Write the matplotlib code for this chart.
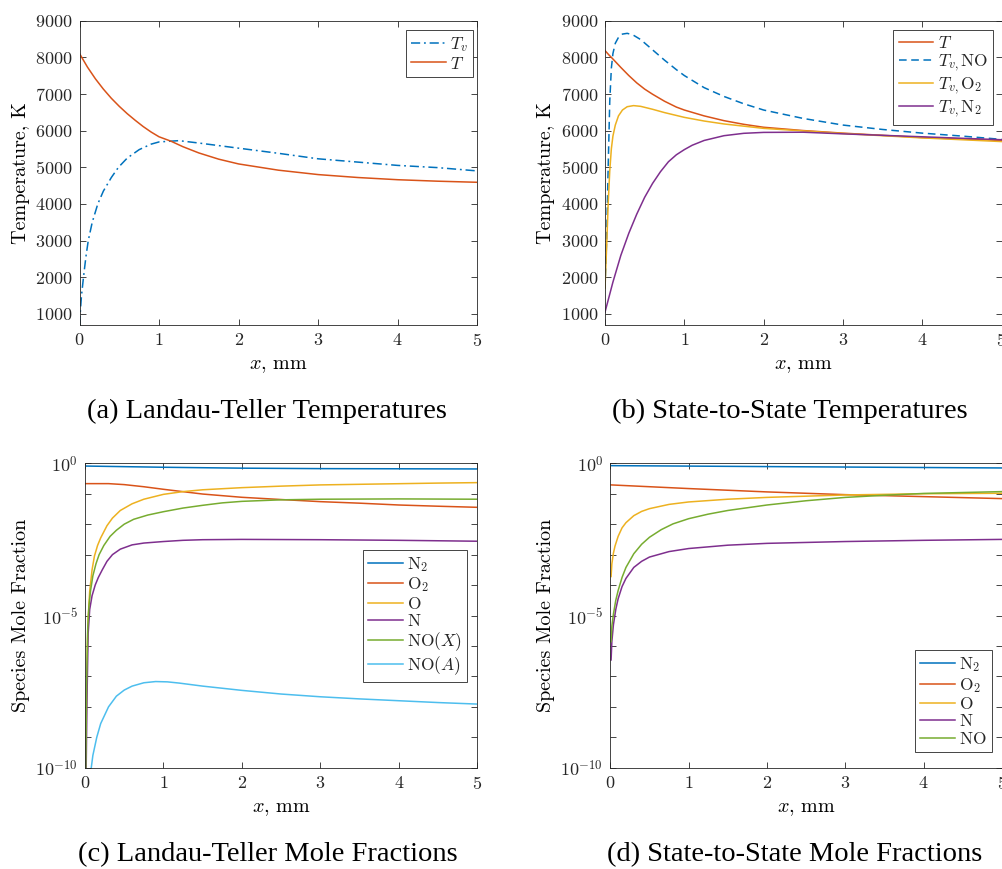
import numpy as np
import matplotlib
matplotlib.use("Agg")
import matplotlib.pyplot as plt

plt.rcParams.update({
    "font.family": "serif",
    "font.serif": ["cmr10"],
    "mathtext.fontset": "cm",
    "axes.formatter.use_mathtext": True,
    "axes.unicode_minus": False,
    "axes.linewidth": 0.6,
    "axes.edgecolor": "#262626",
    "xtick.color": "#262626",
    "ytick.color": "#262626",
    "text.color": "#262626",
})

C_BLUE = "#0072BD"
C_ORANGE = "#D95319"
C_YELLOW = "#EDB120"
C_PURPLE = "#7E2F8E"
C_GREEN = "#77AC30"
C_CYAN = "#4DBEEE"

# ---- (a) Landau-Teller temperatures -------------------------------------
lt_T_x = [0, 0.1, 0.2, 0.3, 0.4, 0.5, 0.6, 0.7, 0.8, 0.9, 1.0, 1.15, 1.3, 1.5, 1.75,
          2.0, 2.5, 3.0, 3.5, 4.0, 4.5, 5.0]
lt_T = [8100, 7730, 7410, 7130, 6880, 6660, 6460, 6280, 6110, 5960, 5830, 5710, 5560, 5390,
        5220, 5090, 4920, 4800, 4720, 4660, 4620, 4590]

lt_Tv_x = [0, 0.01, 0.025, 0.05, 0.08, 0.11, 0.16, 0.23, 0.3, 0.4, 0.49, 0.6, 0.75,
           0.9, 1.0, 1.25, 1.5, 2.0, 2.5, 3.0, 3.5, 4.0, 4.5, 5.0]
lt_Tv = [700, 1050, 1500, 2000, 2550, 3000, 3500, 4000, 4350, 4720, 5000, 5250, 5480,
         5630, 5690, 5725, 5660, 5520, 5380, 5230, 5140, 5050, 4990, 4900]

# ---- (b) State-to-state temperatures ------------------------------------
sts_T_x = [0, 0.05, 0.1, 0.2, 0.3, 0.4, 0.5, 0.6, 0.75, 0.9, 1.0, 1.25, 1.5, 1.75,
           2.0, 2.5, 3.0, 3.5, 4.0, 4.5, 5.0]
sts_T = [8180, 8060, 7950, 7720, 7500, 7300, 7130, 6990, 6800, 6640, 6560, 6400, 6270, 6170,
         6090, 6000, 5930, 5870, 5810, 5770, 5730]

sts_TvNO_x = [0, 0.02, 0.04, 0.06, 0.08, 0.1, 0.13, 0.17, 0.22, 0.28, 0.35, 0.45, 0.6,
              0.75, 0.9, 1.0, 1.25, 1.5, 1.75, 2.0, 2.5, 3.0, 3.5, 4.0, 4.5, 5.0]
sts_TvNO = [1700, 3000, 5000, 6800, 7700, 8100, 8380, 8540, 8630, 8650, 8610, 8480, 8200,
            7920, 7660, 7500, 7170, 6930, 6730, 6560, 6330, 6150, 6030, 5930, 5850, 5760]

sts_TvO2_x = [0, 0.02, 0.04, 0.06, 0.08, 0.1, 0.13, 0.17, 0.22, 0.28, 0.36, 0.45, 0.6,
              0.75, 1.0, 1.25, 1.5, 2.0, 2.5, 3.0, 3.5, 4.0, 4.5, 5.0]
sts_TvO2 = [1700, 2800, 4000, 4900, 5500, 5850, 6150, 6400, 6560, 6650, 6680, 6660, 6580,
            6490, 6360, 6260, 6180, 6060, 5990, 5920, 5860, 5800, 5750, 5700]

sts_TvN2_x = [0, 0.1, 0.2, 0.3, 0.4, 0.5, 0.6, 0.7, 0.8, 0.9, 1.0, 1.1, 1.25, 1.5, 1.75,
              2.0, 2.5, 3.0, 3.5, 4.0, 4.5, 5.0]
sts_TvN2 = [1050, 1870, 2600, 3200, 3720, 4180, 4560, 4880, 5150, 5340, 5480, 5600, 5730,
            5860, 5925, 5950, 5955, 5910, 5870, 5830, 5790, 5750]

# ---- (c) Landau-Teller mole fractions (log10) ---------------------------
lt_N2_x = [0, 1, 2, 3, 4, 5]
lt_N2_log = [-0.09, -0.13, -0.16, -0.175, -0.18, -0.186]

lt_O2_x = [0, 0.3, 0.5, 0.75, 1, 1.5, 2, 2.5, 3, 3.5, 4, 4.5, 5]
lt_O2_log = [-0.668, -0.668, -0.70, -0.77, -0.854, -1.01, -1.117, -1.19, -1.26, -1.31, -1.37,
             -1.41, -1.446]

lt_O_x = [0, 0.01, 0.02, 0.03, 0.04, 0.06, 0.09, 0.12, 0.16, 0.2, 0.28, 0.35, 0.45, 0.6,
          0.75, 1.0, 1.25, 1.5, 2, 2.5, 3, 3.5, 4, 4.5, 5]
lt_O_log = [-12, -10, -7.5, -6, -5.1, -4.2, -3.5, -3.05, -2.7, -2.45, -2.05, -1.8, -1.55,
            -1.33, -1.18, -1.02, -0.93, -0.87, -0.80, -0.75, -0.71, -0.69, -0.67, -0.65, -0.635]

lt_N_x = [0, 0.015, 0.025, 0.04, 0.06, 0.09, 0.13, 0.17, 0.22, 0.28, 0.35, 0.45, 0.6, 0.75,
          1.0, 1.25, 1.5, 2, 3, 4, 5]
lt_N_log = [-12, -10, -7.8, -5.6, -4.8, -4.35, -4.0, -3.75, -3.5, -3.22, -3.0, -2.82, -2.68,
            -2.62, -2.57, -2.53, -2.51, -2.50, -2.51, -2.53, -2.56]

lt_NOX_x = [0, 0.01, 0.02, 0.035, 0.05, 0.07, 0.1, 0.14, 0.18, 0.24, 0.32, 0.4, 0.5, 0.62,
            0.8, 1, 1.25, 1.5, 1.75, 2, 2.5, 3, 4, 5]
lt_NOX_log = [-12, -10, -7.3, -5.4, -4.7, -4.2, -3.7, -3.3, -3.0, -2.7, -2.4, -2.2, -2.0,
              -1.84, -1.7, -1.59, -1.47, -1.38, -1.3, -1.25, -1.2, -1.18, -1.17, -1.18]

lt_NOA_x = [0.05, 0.08, 0.1, 0.15, 0.2, 0.3, 0.4, 0.5, 0.6, 0.75, 0.9, 1.05, 1.2, 1.5, 2,
            2.5, 3, 3.5, 4, 4.5, 5]
lt_NOA_log = [-11, -10, -9.6, -9.0, -8.55, -8.0, -7.65, -7.45, -7.32, -7.21, -7.17, -7.18,
              -7.22, -7.32, -7.46, -7.58, -7.67, -7.74, -7.80, -7.86, -7.91]

# ---- (d) State-to-state mole fractions (log10) --------------------------
sts_N2_x = [0.01, 1, 2, 3, 4, 5]
sts_N2_log = [-0.077, -0.092, -0.108, -0.123, -0.138, -0.153]

sts_O2_x = [0.01, 1, 2, 3, 4, 5]
sts_O2_log = [-0.71, -0.83, -0.94, -1.03, -1.095, -1.16]

sts_O_x = [0.01, 0.02, 0.04, 0.06, 0.1, 0.15, 0.2, 0.3, 0.4, 0.5, 0.75, 1, 1.5, 2, 2.5, 3, 4, 5]
sts_O_log = [-3.72, -3.3, -2.95, -2.72, -2.4, -2.12, -1.95, -1.72, -1.58, -1.49, -1.35, -1.27,
             -1.18, -1.12, -1.08, -1.04, -1.0, -0.985]

sts_NO_x = [0.01, 0.02, 0.04, 0.07, 0.1, 0.15, 0.2, 0.3, 0.4, 0.5, 0.65, 0.8, 1, 1.25, 1.5,
            2, 2.5, 3, 3.5, 4, 4.5, 5]
sts_NO_log = [-5.86, -5.35, -4.95, -4.5, -4.18, -3.75, -3.42, -2.97, -2.66, -2.43, -2.18,
              -1.99, -1.82, -1.67, -1.55, -1.37, -1.23, -1.12, -1.05, -0.99, -0.96, -0.93]

sts_N_x = [0.01, 0.02, 0.04, 0.07, 0.1, 0.15, 0.2, 0.3, 0.4, 0.5, 0.75, 1, 1.5, 2, 3, 4, 5]
sts_N_log = [-6.46, -5.85, -5.3, -4.8, -4.45, -4.05, -3.78, -3.42, -3.22, -3.08, -2.9, -2.8,
             -2.69, -2.63, -2.57, -2.53, -2.5]

captions = ["(a) Landau-Teller Temperatures", "(b) State-to-State Temperatures",
            "(c) Landau-Teller Mole Fractions", "(d) State-to-State Mole Fractions"]

TICK_FS = 13
LABEL_FS = 14.5
LEG_FS = 12.5
LW = 1.1

fig = plt.figure(figsize=(10.03, 8.69), dpi=100)
W, H = 1003.0, 869.0


def add_axes(left, top, right, bottom):
    return fig.add_axes([left / W, 1 - bottom / H, (right - left) / W, (bottom - top) / H])


def style(ax):
    ax.tick_params(direction="in", top=True, right=True, length=4, width=0.6,
                   labelsize=TICK_FS, pad=5)
    ax.tick_params(which="minor", length=0)
    ax.set_xlim(0, 5)
    ax.set_xlabel(r"$x$, mm", fontsize=LABEL_FS, labelpad=6)


def legend(ax, loc, anchor):
    lg = ax.legend(fontsize=LEG_FS, fancybox=False, edgecolor="#262626", framealpha=1,
                   handlelength=2.0, handletextpad=0.25, borderpad=0.3, labelspacing=0.08,
                   borderaxespad=0.0, loc=loc, bbox_to_anchor=anchor)
    lg.get_frame().set_linewidth(0.6)
    return lg


# (a)
ax_a = add_axes(79.5, 20.5, 477.3, 325)
ax_a.plot(lt_Tv_x, lt_Tv, color=C_BLUE, lw=LW, ls=(0, (6, 2.5, 1.2, 2.5)), label=r"$T_v$")
ax_a.plot(lt_T_x, lt_T, color=C_ORANGE, lw=LW, label=r"$T$")
ax_a.set_ylim(700, 9000)
ax_a.set_yticks(np.arange(1000, 9001, 1000))
ax_a.set_ylabel("Temperature, K", fontsize=LABEL_FS, labelpad=4)
style(ax_a)
legend(ax_a, "upper right", (1 - 4.3 / 397.8, 1 - 9.5 / 304.5))

# (b)
ax_b = add_axes(605, 20.5, 1001.5, 325)
ax_b.plot(sts_T_x, sts_T, color=C_ORANGE, lw=LW, label=r"$T$")
ax_b.plot(sts_TvNO_x, sts_TvNO, color=C_BLUE, lw=LW, ls=(0, (5, 3)),
          label=r"$T_{v,}\mathrm{NO}$")
ax_b.plot(sts_TvO2_x, sts_TvO2, color=C_YELLOW, lw=LW, label=r"$T_{v,}\mathrm{O}_{2}$")
ax_b.plot(sts_TvN2_x, sts_TvN2, color=C_PURPLE, lw=LW, label=r"$T_{v,}\mathrm{N}_{2}$")
ax_b.set_ylim(700, 9000)
ax_b.set_yticks(np.arange(1000, 9001, 1000))
ax_b.set_ylabel("Temperature, K", fontsize=LABEL_FS, labelpad=4)
style(ax_b)
legend(ax_b, "upper right", (1 - 8.5 / 396.5, 1 - 9.5 / 304.5))


def log_axis(ax):
    ax.set_yscale("log")
    ax.set_ylim(1e-10, 1)
    ax.set_yticks([10.0 ** k for k in range(-10, 1)])
    ax.set_yticklabels([r"$10^{%d}$" % k if k % 5 == 0 else "" for k in range(-10, 1)])
    ax.set_ylabel("Species Mole Fraction", fontsize=LABEL_FS, labelpad=4)


def p(ax, x, lg, **kw):
    ax.plot(x, 10.0 ** np.asarray(lg), lw=LW, **kw)


# (c)
ax_c = add_axes(85, 463.3, 477.3, 767.7)
p(ax_c, lt_N2_x, lt_N2_log, color=C_BLUE, label=r"$\mathrm{N}_2$")
p(ax_c, lt_O2_x, lt_O2_log, color=C_ORANGE, label=r"$\mathrm{O}_2$")
p(ax_c, lt_O_x, lt_O_log, color=C_YELLOW, label=r"$\mathrm{O}$")
p(ax_c, lt_N_x, lt_N_log, color=C_PURPLE, label=r"$\mathrm{N}$")
p(ax_c, lt_NOX_x, lt_NOX_log, color=C_GREEN, label=r"$\mathrm{NO}(X)$")
p(ax_c, lt_NOA_x, lt_NOA_log, color=C_CYAN, label=r"$\mathrm{NO}(A)$")
log_axis(ax_c)
style(ax_c)
legend(ax_c, "center right", (1 - 10.3 / 392.3, 0.498))

# (d)
ax_d = add_axes(610.3, 463.3, 1002, 767.7)
p(ax_d, sts_N2_x, sts_N2_log, color=C_BLUE, label=r"$\mathrm{N}_2$")
p(ax_d, sts_O2_x, sts_O2_log, color=C_ORANGE, label=r"$\mathrm{O}_2$")
p(ax_d, sts_O_x, sts_O_log, color=C_YELLOW, label=r"$\mathrm{O}$")
p(ax_d, sts_N_x, sts_N_log, color=C_PURPLE, label=r"$\mathrm{N}$")
p(ax_d, sts_NO_x, sts_NO_log, color=C_GREEN, label=r"$\mathrm{NO}$")
log_axis(ax_d)
style(ax_d)
legend(ax_d, "lower right", (1 - 10 / 391.7, 15.7 / 304.4))

cap_kw = dict(fontsize=20.5, family="Liberation Serif", color="black", ha="center", va="center")
fig.text(267 / W, 1 - 411 / H, captions[0], **cap_kw)
fig.text(790 / W, 1 - 411 / H, captions[1], **cap_kw)
fig.text(268 / W, 1 - 855 / H, captions[2], **cap_kw)
fig.text(795 / W, 1 - 855 / H, captions[3], **cap_kw)

fig.savefig("out.png", dpi=100, facecolor="white")
